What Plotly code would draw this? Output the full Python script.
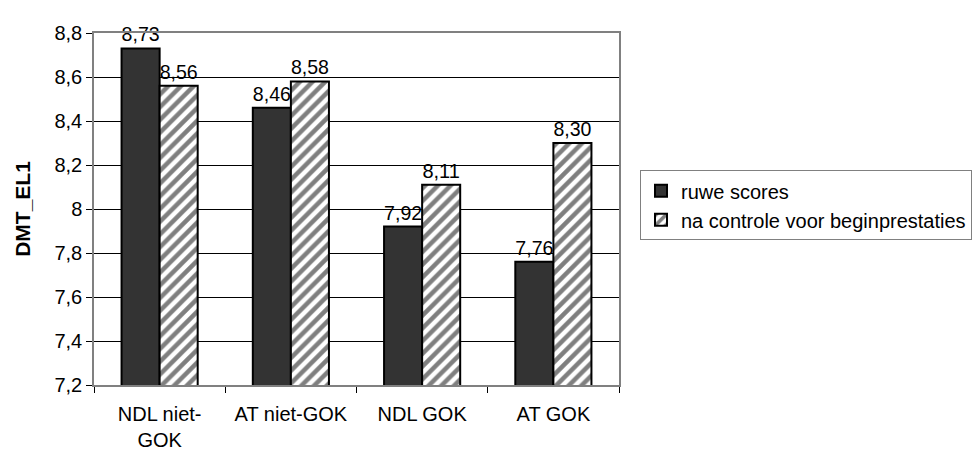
import plotly.graph_objects as go

categories = ["NDL niet-<br>GOK", "AT niet-GOK", "NDL GOK", "AT GOK"]
ruwe_scores = [8.73, 8.46, 7.92, 7.76]
na_controle = [8.56, 8.58, 8.11, 8.30]
y_ticks = [7.2, 7.4, 7.6, 7.8, 8.0, 8.2, 8.4, 8.6, 8.8]

FONT = "Liberation Sans, Arial, sans-serif"
FS = 20

fig = go.Figure()
fig.add_trace(go.Bar(
    x=categories, y=ruwe_scores, name="ruwe scores",
    marker=dict(color="#333333", line=dict(color="black", width=2)),
    texttemplate="%{y:.2f}", textposition="outside", cliponaxis=False,
    textfont=dict(size=FS, color="black", family=FONT),
))
fig.add_trace(go.Bar(
    x=categories, y=na_controle, name="na controle voor beginprestaties",
    marker=dict(color="white", line=dict(color="black", width=2),
                pattern=dict(shape="/", fgcolor="black", bgcolor="white",
                             size=9, solidity=0.5)),
    texttemplate="%{y:.2f}", textposition="outside", cliponaxis=False,
    textfont=dict(size=FS, color="black", family=FONT),
))

fig.update_layout(
    width=972, height=450,
    margin=dict(l=94, r=353, t=33, b=65, autoexpand=False),
    paper_bgcolor="white", plot_bgcolor="white",
    separators=",.",
    barmode="group", bargap=0.42, bargroupgap=0,
    font=dict(family=FONT, size=FS, color="black"),
    showlegend=True,
    legend=dict(x=1.04, y=0.61, xanchor="left", yanchor="top",
                bordercolor="#808080", borderwidth=1, bgcolor="white",
                font=dict(size=FS), itemwidth=30, tracegroupgap=0),
    uniformtext=dict(mode=False),
)
fig.update_xaxes(
    type="category", tickson="boundaries", ticks="outside", ticklen=6,
    tickcolor="black", showline=True, linecolor="#808080", linewidth=1.5,
    mirror=True, tickfont=dict(size=FS), showgrid=False,
    tickangle=0, automargin=False, ticklabelstandoff=10,
)
fig.update_yaxes(
    range=[7.2, 8.8], tickvals=y_ticks, tickformat="~g",
    ticks="outside", ticklen=6, tickcolor="black",
    showline=True, linecolor="#808080", linewidth=1.5, mirror=True,
    showgrid=True, gridcolor="black", gridwidth=1,
    tickfont=dict(size=FS), automargin=False,
    title=dict(text="<b>DMT_EL1</b>", font=dict(size=21), standoff=18),
)

fig.write_html("out.html")
